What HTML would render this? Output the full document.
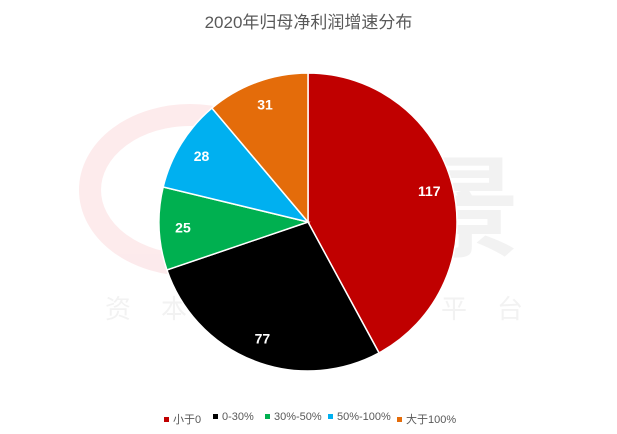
<!DOCTYPE html>
<html><head><meta charset="utf-8"><style>
body{margin:0;background:#fff;font-family:"Liberation Sans","Noto Sans CJK SC",sans-serif;}
#wrap{position:relative;width:617px;height:434px;overflow:hidden;}
.title{position:absolute;left:0;width:617px;top:8px;text-align:center;font-size:17px;color:#595959;}
.leg{position:absolute;top:411px;font-size:11px;color:#595959;white-space:nowrap;}
.leg i{display:inline-block;width:5px;height:5px;margin-right:4px;vertical-align:middle;position:relative;top:-1px;}
</style></head><body>
<div id="wrap">
<div class="title">2020年归母净利润增速分布</div>
<svg width="617" height="434" style="position:absolute;left:0;top:0">
<g opacity="0.5">
<ellipse cx="190" cy="190" rx="100" ry="75" fill="none" stroke="#fbd7da" stroke-width="22"/>
<text x="300" y="248" font-size="110" font-weight="bold" fill="#e6e6e6" font-family="Noto Sans CJK SC, sans-serif">全景</text>
<text x="105" y="318" font-size="26" fill="#e6e6e6" letter-spacing="30" font-family="Noto Sans CJK SC, sans-serif">资本市场服务平台</text>
</g>
<g id="slices"></g>
</svg>
<div class="leg" style="left:164px"><i style="background:#c00000"></i>小于0</div>
<div class="leg" style="left:213px"><i style="background:#000"></i>0-30%</div>
<div class="leg" style="left:265px"><i style="background:#00b050"></i>30%-50%</div>
<div class="leg" style="left:328px"><i style="background:#00b0f0"></i>50%-100%</div>
<div class="leg" style="left:397px"><i style="background:#e46c0a"></i>大于100%</div>
</div>
<script>
const categories=["小于0","0-30%","30%-50%","50%-100%","大于100%"];
const values=[117,77,25,28,31];
const colors=["#c00000","#000000","#00b050","#00b0f0","#e46c0a"];
const cx=308,cy=222,r=149;
const g=document.getElementById('slices');
const ns="http://www.w3.org/2000/svg";
const total=values.reduce((a,b)=>a+b,0);
let a0=0;
values.forEach((v,i)=>{
  const a1=a0+v/total*Math.PI*2;
  const p=(a)=>[cx+r*Math.sin(a),cy-r*Math.cos(a)];
  const [x0,y0]=p(a0),[x1,y1]=p(a1);
  const path=document.createElementNS(ns,'path');
  path.setAttribute('d',`M${cx},${cy}L${x0},${y0}A${r},${r} 0 ${a1-a0>Math.PI?1:0} 1 ${x1},${y1}Z`);
  path.setAttribute('fill',colors[i]);path.setAttribute('stroke','#fff');path.setAttribute('stroke-width','1.5');
  
  
  g.appendChild(path);
  const am=(a0+a1)/2,lr=r*0.84;
  const t=document.createElementNS(ns,'text');
  t.setAttribute('x',cx+lr*Math.sin(am));t.setAttribute('y',cy-lr*Math.cos(am)+5);
  t.setAttribute('text-anchor','middle');t.setAttribute('fill','#fff');t.setAttribute('font-size','14');t.setAttribute('font-weight','bold');
  t.setAttribute('font-family','Liberation Sans, sans-serif');
  t.textContent=v;
  
  
  g.appendChild(t);
  a0=a1;
});
</script>
</body></html>
